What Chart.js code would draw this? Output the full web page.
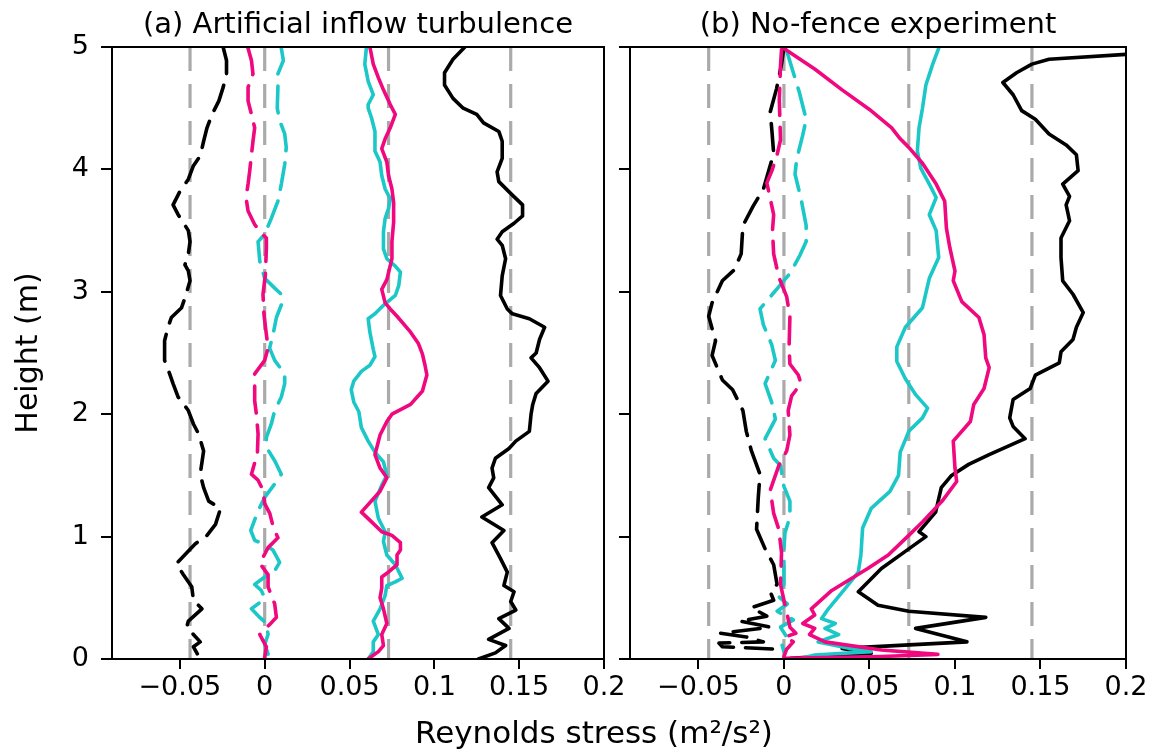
<!DOCTYPE html>
<html><head><meta charset="utf-8">
<script src="https://cdn.jsdelivr.net/npm/chart.js@4.4.1/dist/chart.umd.min.js"></script>
<style>
html,body{margin:0;padding:0;background:#fff;}
#wrap{position:relative;width:1153px;height:756px;}
canvas{position:absolute;left:0;top:0;}
</style></head><body>
<div id="wrap"><canvas id="c1" width="1153" height="756"></canvas><canvas id="c2" width="1153" height="756"></canvas></div>
<script>
// ---------- tick labels / reference lines ----------
const xTickValues = [-0.05, 0, 0.05, 0.1, 0.15, 0.2];
const yTickValues = [0, 1, 2, 3, 4, 5];
const refLines = [-0.044, 0, 0.073, 0.145];
const titleA = '(a) Artificial inflow turbulence';
const titleB = '(b) No-fence experiment';
const xAxisTitle = 'Reynolds stress (m²/s²)';
const yAxisTitle = 'Height (m)';

// ---------- panel (a) ----------
const aBlackSolidH = [5.00,4.90,4.79,4.69,4.58,4.50,4.45,4.38,4.31,4.23,4.09,3.98,3.90,3.79,3.71,3.62,3.56,3.49,3.43,3.38,3.27,3.13,2.97,2.86,2.82,2.78,2.71,2.61,2.50,2.46,2.38,2.27,2.17,2.08,2.00,1.86,1.78,1.72,1.64,1.56,1.48,1.40,1.26,1.16,1.05,0.95,0.82,0.71,0.60,0.55,0.47,0.40,0.33,0.25,0.16,0.11,0.05,0.00];
const aBlackSolidX = [0.118,0.111,0.106,0.106,0.111,0.117,0.125,0.129,0.138,0.140,0.140,0.137,0.138,0.146,0.152,0.152,0.147,0.140,0.137,0.140,0.142,0.140,0.139,0.143,0.146,0.156,0.165,0.162,0.160,0.157,0.162,0.167,0.160,0.158,0.157,0.156,0.148,0.144,0.136,0.134,0.135,0.132,0.140,0.128,0.141,0.134,0.139,0.143,0.141,0.147,0.145,0.148,0.138,0.144,0.132,0.142,0.136,0.126];

const aMagentaSolidH = [5.00,4.86,4.75,4.65,4.53,4.45,4.34,4.25,4.17,4.06,3.95,3.84,3.73,3.57,3.41,3.27,3.10,3.02,2.91,2.86,2.80,2.67,2.58,2.49,2.40,2.32,2.19,2.08,2.00,1.94,1.83,1.67,1.56,1.48,1.37,1.20,1.12,1.04,1.01,0.95,0.89,0.85,0.77,0.70,0.67,0.58,0.50,0.41,0.29,0.20,0.11,0.06,0.00];
const aMagentaSolidX = [0.062,0.064,0.067,0.070,0.074,0.077,0.074,0.071,0.069,0.072,0.073,0.075,0.076,0.076,0.075,0.075,0.072,0.069,0.071,0.074,0.078,0.086,0.0905,0.093,0.0945,0.0956,0.093,0.086,0.075,0.072,0.068,0.065,0.068,0.072,0.068,0.057,0.063,0.069,0.075,0.080,0.080,0.078,0.078,0.072,0.069,0.069,0.068,0.070,0.072,0.069,0.070,0.067,0.061];

const aCyanSolidH = [5.00,4.86,4.72,4.61,4.53,4.50,4.42,4.31,4.15,4.06,3.95,3.84,3.76,3.68,3.60,3.49,3.35,3.27,3.21,3.16,3.05,2.97,2.89,2.82,2.78,2.67,2.53,2.47,2.40,2.35,2.27,2.20,2.10,2.02,1.89,1.78,1.69,1.61,1.50,1.42,1.29,1.15,1.04,0.96,0.85,0.77,0.66,0.63,0.60,0.52,0.41,0.31,0.20,0.14,0.06,0.00];
const aCyanSolidX = [0.060,0.059,0.061,0.064,0.061,0.061,0.063,0.065,0.065,0.068,0.069,0.071,0.074,0.073,0.071,0.070,0.070,0.072,0.077,0.080,0.079,0.077,0.070,0.065,0.061,0.062,0.064,0.065,0.062,0.057,0.0525,0.051,0.0525,0.0555,0.057,0.061,0.065,0.070,0.072,0.069,0.065,0.067,0.071,0.070,0.072,0.077,0.081,0.077,0.072,0.071,0.068,0.064,0.067,0.064,0.064,0.061];

const aBlackDashH = [5.00,4.89,4.78,4.67,4.56,4.45,4.34,4.23,4.11,4.03,3.92,3.82,3.71,3.63,3.50,3.41,3.31,3.22,3.17,3.09,2.95,2.87,2.79,2.71,2.60,2.44,2.33,2.25,2.14,2.03,1.92,1.84,1.70,1.51,1.40,1.29,1.23,1.10,1.01,0.94,0.78,0.69,0.59,0.48,0.41,0.31,0.26,0.20,0.14,0.10,0.00];
const aBlackDashX = [-0.0245,-0.0225,-0.0225,-0.0245,-0.027,-0.031,-0.034,-0.036,-0.038,-0.042,-0.045,-0.050,-0.054,-0.051,-0.045,-0.044,-0.045,-0.047,-0.045,-0.044,-0.047,-0.049,-0.055,-0.057,-0.059,-0.059,-0.056,-0.054,-0.051,-0.045,-0.042,-0.039,-0.036,-0.038,-0.036,-0.033,-0.026,-0.029,-0.034,-0.041,-0.052,-0.048,-0.043,-0.042,-0.037,-0.045,-0.046,-0.042,-0.038,-0.042,-0.038];

const aMagentaDashH = [4.99,4.89,4.78,4.67,4.56,4.45,4.34,4.23,4.12,3.99,3.88,3.77,3.66,3.55,3.48,3.44,3.36,3.14,2.98,2.81,2.65,2.54,2.44,2.33,2.11,2.00,1.84,1.68,1.51,1.46,1.38,1.27,1.19,1.08,0.99,0.91,0.78,0.69,0.59,0.45,0.34,0.29,0.20,0.15,0.10,0.01];
const aMagentaDashX = [-0.0098,-0.0078,-0.0069,-0.0098,-0.0098,-0.0078,-0.0059,-0.0069,-0.0078,-0.0088,-0.0098,-0.011,-0.0098,-0.0059,-0.002,0.001,0.001,0.0004,-0.001,-0.0004,0.001,0.002,0.000,-0.0059,-0.0059,-0.0049,-0.0039,-0.0043,-0.0078,-0.0039,-0.001,0.000,0.003,0.005,0.0078,0.002,-0.0029,0.002,0.002,0.0059,0.0069,0.0035,-0.0029,-0.001,0.001,0.000];

const aCyanDashH = [4.99,4.89,4.78,4.67,4.50,4.40,4.29,4.18,4.04,3.88,3.74,3.60,3.47,3.41,3.25,3.11,3.03,2.98,2.90,2.79,2.65,2.54,2.44,2.33,2.25,2.14,2.03,1.92,1.81,1.73,1.62,1.51,1.43,1.32,1.21,1.05,0.97,0.94,0.89,0.79,0.72,0.69,0.61,0.56,0.50,0.45,0.41,0.34,0.29,0.20,0.12,0.04];
const aCyanDashX = [0.0098,0.011,0.0078,0.0078,0.0074,0.0088,0.0118,0.0127,0.0118,0.0098,0.0078,0.0039,0.000,-0.0039,-0.0029,0.000,0.0059,0.0098,0.010,0.0069,0.0049,0.0029,0.0059,0.0118,0.0118,0.0098,0.0059,0.0039,0.001,0.001,0.0059,0.0098,0.0059,0.000,-0.0039,-0.0082,-0.0059,-0.001,0.0049,0.0088,0.0059,0.002,-0.0059,-0.002,0.000,-0.0039,-0.0078,-0.0029,0.001,0.002,0.000,0.002];

// ---------- panel (b) ----------
const bBlackSolidH = [4.94,4.90,4.86,4.79,4.71,4.61,4.48,4.41,4.29,4.20,4.12,3.99,3.88,3.78,3.71,3.58,3.44,3.28,3.09,2.98,2.83,2.71,2.61,2.51,2.42,2.32,2.21,2.12,1.97,1.90,1.80,1.67,1.59,1.50,1.40,1.20,1.04,1.00,0.90,0.74,0.55,0.44,0.39,0.34,0.25,0.14,0.087,0.046,0.005];
const bBlackSolidX = [0.200,0.155,0.145,0.136,0.128,0.134,0.139,0.147,0.155,0.165,0.171,0.172,0.163,0.167,0.165,0.167,0.162,0.162,0.163,0.169,0.175,0.171,0.169,0.162,0.161,0.147,0.144,0.134,0.132,0.134,0.141,0.120,0.108,0.098,0.092,0.0887,0.079,0.083,0.073,0.057,0.0435,0.055,0.073,0.118,0.077,0.107,0.034,0.051,0.004];

const bMagentaSolidH = [4.99,4.97,4.82,4.65,4.49,4.34,4.25,4.18,4.05,3.88,3.74,3.52,3.36,3.17,3.09,2.92,2.79,2.65,2.46,2.38,2.21,2.08,1.94,1.78,1.56,1.45,1.29,1.12,1.01,0.85,0.74,0.56,0.41,0.36,0.29,0.25,0.20,0.14,0.074,0.038,0.02,0.005];
const bMagentaSolidX = [0.000,0.002,0.018,0.034,0.050,0.063,0.068,0.073,0.081,0.089,0.094,0.095,0.097,0.100,0.099,0.104,0.114,0.117,0.118,0.120,0.117,0.111,0.109,0.099,0.100,0.101,0.0925,0.081,0.073,0.061,0.049,0.028,0.016,0.018,0.011,0.018,0.015,0.024,0.057,0.090,0.057,0.000];

const bCyanSolidH = [4.99,4.86,4.69,4.50,4.34,4.15,4.01,3.88,3.77,3.63,3.50,3.28,3.11,2.87,2.71,2.55,2.43,2.29,2.16,2.05,1.97,1.86,1.69,1.50,1.37,1.23,1.07,0.85,0.71,0.58,0.41,0.33,0.29,0.25,0.20,0.14,0.087,0.06,0.033,0.005];
const bCyanSolidX = [0.0905,0.087,0.083,0.081,0.079,0.078,0.080,0.085,0.089,0.085,0.089,0.0905,0.085,0.081,0.071,0.066,0.066,0.071,0.077,0.084,0.081,0.073,0.068,0.067,0.062,0.051,0.046,0.045,0.0435,0.036,0.026,0.022,0.030,0.024,0.032,0.020,0.038,0.051,0.018,0.010];

const bBlackDashH = [5.00,4.86,4.66,4.47,4.31,4.13,3.84,3.70,3.54,3.31,3.18,3.09,2.91,2.80,2.60,2.48,2.28,2.20,2.03,1.86,1.70,1.51,1.32,1.06,0.90,0.77,0.61,0.55,0.48,0.42,0.35,0.31,0.26,0.21,0.18,0.14,0.13,0.10,0.08,0.06];
const bBlackDashX = [0.000,-0.0014,-0.0043,-0.008,-0.007,-0.006,-0.012,-0.018,-0.024,-0.025,-0.029,-0.036,-0.042,-0.044,-0.040,-0.042,-0.036,-0.030,-0.024,-0.022,-0.019,-0.014,-0.015,-0.016,-0.011,-0.006,-0.004,-0.008,-0.006,-0.019,-0.010,-0.026,-0.008,-0.037,-0.022,-0.012,-0.038,-0.036,-0.004,0.000];

const bMagentaDashH = [4.98,4.85,4.57,4.24,4.12,3.99,3.89,3.76,3.63,3.50,3.31,3.12,2.96,2.80,2.54,2.41,2.32,2.25,2.15,2.03,1.83,1.70,1.58,1.38,1.19,1.06,0.87,0.61,0.48,0.36,0.26,0.21,0.18,0.14,0.08,0.02];
const bMagentaDashX = [-0.0014,-0.002,-0.0027,-0.002,-0.004,-0.007,-0.010,-0.008,-0.006,-0.0067,-0.006,-0.003,0.0016,0.0035,0.003,0.0035,0.0084,0.010,0.0045,0.0025,0.0035,0.0016,-0.003,-0.008,-0.006,-0.003,-0.0014,-0.002,0.000,0.002,0.0035,0.007,0.0006,0.0055,0.0016,0.000];

const bCyanDashH = [4.97,4.79,4.63,4.41,4.28,4.08,3.96,3.76,3.54,3.41,3.30,3.15,3.02,2.86,2.73,2.57,2.44,2.25,2.09,1.96,1.80,1.64,1.58,1.41,1.29,1.16,1.03,0.90,0.61,0.52,0.45,0.39,0.32,0.26,0.18,0.13,0.06];
const bCyanDashX = [0.0016,0.0055,0.009,0.013,0.011,0.0074,0.0065,0.010,0.013,0.013,0.0094,0.0035,-0.0043,-0.014,-0.012,-0.0072,-0.005,-0.011,-0.007,-0.005,-0.011,-0.006,-0.002,0.000,0.0035,0.0035,0.0006,0.000,0.000,-0.004,0.002,-0.004,0.0055,-0.002,0.0016,-0.0014,0.000];

// ---------- helpers ----------
const FONT = '"DejaVu Sans", sans-serif';
const BLACK = '#000000', MAGENTA = '#f0087f', CYAN = '#1cc7c7', GRAY = '#aaaaaa';
const pts = (xs, hs) => xs.map((x, i) => ({x: x, y: hs[i]}));
const fmt = v => v === 0 ? '0' : (v < 0 ? '\u2212' : '') + String(Math.abs(v));

function line(xs, hs, color, dashed) {
  return {data: pts(xs, hs), showLine: true, borderColor: color, borderWidth: 3.6,
    borderDash: dashed ? [27, 12] : [], borderCapStyle: 'round', borderJoinStyle: 'round',
    pointRadius: 0, fill: false, tension: 0};
}
function refDatasets() {
  return refLines.map(v => ({data: [{x: v, y: 5}, {x: v, y: 0}], showLine: true,
    borderColor: GRAY, borderWidth: 3.2, borderDash: [24, 13], borderCapStyle: 'butt',
    pointRadius: 0, fill: false}));
}

const panelDecor = {
  id: 'panelDecor',
  afterDraw(chart, args, o) {
    const {ctx, chartArea: a} = chart;
    ctx.save();
    ctx.strokeStyle = '#000'; ctx.lineWidth = 2;
    ctx.strokeRect(a.left, a.top, a.right - a.left, a.bottom - a.top);
    ctx.fillStyle = '#000'; ctx.textAlign = 'center'; ctx.textBaseline = 'alphabetic';
    ctx.font = '29px ' + FONT;
    ctx.fillText(o.title, (a.left + a.right) / 2, o.titleY);
    if (o.xTitle) { ctx.font = '31px ' + FONT; ctx.fillText(o.xTitle, o.xTitleX, o.xTitleY); }
    ctx.restore();
  }
};

function makeChart(id, datasets, opts) {
  return new Chart(document.getElementById(id), {
    type: 'scatter',
    data: {datasets: datasets},
    plugins: [panelDecor],
    options: {
      responsive: false, animation: false, events: [],
      layout: {padding: {left: opts.padLeft, right: opts.padRight, top: 47, bottom: 57}},
      plugins: {legend: {display: false}, tooltip: {enabled: false}, panelDecor: opts.decor},
      scales: {
        x: {type: 'linear', min: -0.09, max: 0.2,
          afterBuildTicks: s => { s.ticks = xTickValues.map(v => ({value: v})); },
          afterFit: s => { s.height = 40; },
          ticks: {callback: v => fmt(v), font: {family: FONT, size: 27}, color: '#000', padding: 3, maxRotation: 0, autoSkip: false},
          grid: {display: true, drawOnChartArea: false, drawTicks: true, tickLength: 10, color: '#000', lineWidth: 2},
          border: {display: true, color: '#000', width: 2}},
        y: {type: 'linear', min: 0, max: 5,
          afterBuildTicks: s => { s.ticks = yTickValues.map(v => ({value: v})); },
          afterFit: s => { s.width = opts.yWidth; },
          ticks: {display: opts.yLabels, callback: v => fmt(v), font: {family: FONT, size: 27}, color: '#000', padding: 12},
          grid: {display: true, drawOnChartArea: false, drawTicks: true, tickLength: 11, color: '#000', lineWidth: 2},
          border: {display: true, color: '#000', width: 2},
          title: {display: opts.yLabels, text: yAxisTitle, color: '#000', font: {family: FONT, size: 30}, padding: {top: 11, bottom: 0}}}
      }
    }
  });
}

const dsA = [
  line(aMagentaSolidX, aMagentaSolidH, MAGENTA, false),
  line(aMagentaDashX, aMagentaDashH, MAGENTA, true),
  line(aCyanSolidX, aCyanSolidH, CYAN, false),
  line(aCyanDashX, aCyanDashH, CYAN, true),
  line(aBlackSolidX, aBlackSolidH, BLACK, false),
  line(aBlackDashX, aBlackDashH, BLACK, true)
].concat(refDatasets());

const dsB = [
  line(bMagentaSolidX, bMagentaSolidH, MAGENTA, false),
  line(bMagentaDashX, bMagentaDashH, MAGENTA, true),
  line(bCyanSolidX, bCyanSolidH, CYAN, false),
  line(bCyanDashX, bCyanDashH, CYAN, true),
  line(bBlackSolidX, bBlackSolidH, BLACK, false),
  line(bBlackDashX, bBlackDashH, BLACK, true)
].concat(refDatasets());

makeChart('c1', dsA, {padLeft: 0, padRight: 549, yWidth: 112, yLabels: true,
  decor: {title: titleA, titleY: 33, xTitle: xAxisTitle, xTitleX: 594, xTitleY: 743}});
makeChart('c2', dsB, {padLeft: 610, padRight: 27, yWidth: 20, yLabels: false,
  decor: {title: titleB, titleY: 33}});
</script>
</body></html>
